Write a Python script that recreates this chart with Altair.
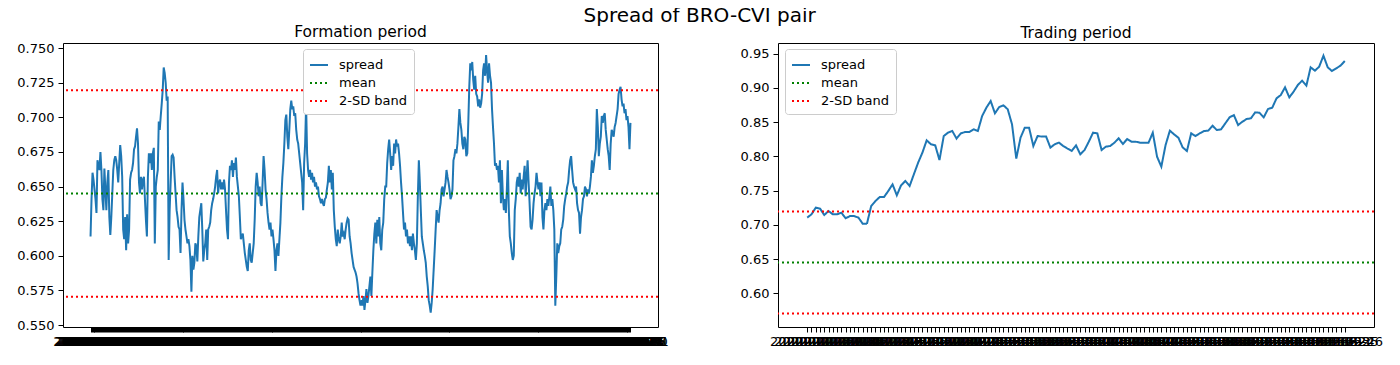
import altair as alt
import pandas as pd

# ---------------- data ----------------
formation_spread = [
    0.614, 0.641, 0.660, 0.655, 0.648, 0.641, 0.631, 0.669, 0.665, 0.662,
    0.675, 0.662, 0.641, 0.633, 0.663, 0.648, 0.633, 0.653, 0.662, 0.628,
    0.615, 0.628, 0.645, 0.662, 0.669, 0.672, 0.669, 0.662, 0.653, 0.667,
    0.680, 0.672, 0.657, 0.619, 0.612, 0.628, 0.604, 0.630, 0.609, 0.619,
    0.655, 0.660, 0.662, 0.667, 0.677, 0.679, 0.686, 0.692, 0.681, 0.653,
    0.645, 0.657, 0.648, 0.655, 0.657, 0.641, 0.626, 0.614, 0.657, 0.674,
    0.667, 0.674, 0.662, 0.674, 0.678, 0.609, 0.650, 0.657, 0.662, 0.697,
    0.691, 0.701, 0.710, 0.720, 0.736, 0.732, 0.725, 0.712, 0.715, 0.597,
    0.633, 0.653, 0.672, 0.673, 0.671, 0.657, 0.645, 0.633, 0.628, 0.621,
    0.619, 0.602, 0.633, 0.653, 0.641, 0.626, 0.619, 0.614, 0.609, 0.612,
    0.607, 0.597, 0.574, 0.600, 0.590, 0.595, 0.609, 0.607, 0.596, 0.614,
    0.628, 0.633, 0.638, 0.619, 0.596, 0.604, 0.609, 0.619, 0.597, 0.619,
    0.621, 0.624, 0.633, 0.638, 0.641, 0.645, 0.650, 0.657, 0.662, 0.645,
    0.653, 0.655, 0.648, 0.653, 0.648,
    0.655, 0.648, 0.633, 0.619, 0.612, 0.653, 0.665, 0.662, 0.669, 0.657,
    0.667, 0.662, 0.671, 0.657, 0.650, 0.643, 0.628, 0.612, 0.614, 0.616,
    0.609, 0.602, 0.597, 0.592, 0.589, 0.604, 0.609, 0.597, 0.595, 0.602,
    0.609, 0.626, 0.650, 0.660, 0.653, 0.643, 0.650, 0.638, 0.636, 0.653,
    0.672, 0.662, 0.648, 0.641, 0.631, 0.624, 0.619, 0.624, 0.614, 0.619,
    0.612, 0.604, 0.589, 0.604, 0.609, 0.600, 0.612, 0.624, 0.643, 0.657,
    0.667, 0.681, 0.698, 0.702, 0.686, 0.677, 0.691, 0.706, 0.712, 0.706,
    0.708, 0.701, 0.703, 0.691, 0.684, 0.681, 0.674, 0.667, 0.660, 0.653,
    0.633, 0.667, 0.681, 0.709, 0.674, 0.662, 0.657, 0.662, 0.655, 0.660,
    0.653, 0.657, 0.650, 0.653, 0.648, 0.650, 0.643, 0.641, 0.638, 0.641,
    0.638, 0.636, 0.641, 0.642, 0.648, 0.653, 0.665, 0.653, 0.662, 0.648,
    0.660, 0.633, 0.621, 0.612, 0.607, 0.619, 0.612, 0.609, 0.614, 0.624,
    0.614, 0.616, 0.612, 0.619, 0.624, 0.627, 0.626, 0.614, 0.609, 0.602,
    0.597, 0.592, 0.590, 0.588, 0.585, 0.580, 0.573, 0.568, 0.564,
    0.568, 0.564, 0.571, 0.561, 0.568, 0.576, 0.566, 0.571, 0.578, 0.585,
    0.571, 0.588, 0.604, 0.616, 0.624, 0.609, 0.626, 0.614, 0.628, 0.609,
    0.604, 0.619, 0.624, 0.641, 0.650, 0.650, 0.667, 0.677, 0.684, 0.674,
    0.662, 0.672, 0.665, 0.681, 0.674, 0.684, 0.679, 0.681, 0.674, 0.665,
    0.653, 0.643, 0.631, 0.619, 0.624, 0.614, 0.619, 0.609, 0.614, 0.607,
    0.614, 0.604, 0.616, 0.609, 0.604, 0.597, 0.609, 0.643, 0.669, 0.653,
    0.633, 0.614, 0.609, 0.604, 0.600, 0.595, 0.585, 0.578, 0.568, 0.564,
    0.559, 0.566, 0.576, 0.590, 0.604, 0.619, 0.633, 0.628, 0.624, 0.633,
    0.638, 0.648, 0.650, 0.643, 0.648, 0.653, 0.662, 0.657, 0.653, 0.648,
    0.641, 0.643, 0.648, 0.669, 0.672, 0.677, 0.674, 0.681, 0.693, 0.706,
    0.696, 0.691, 0.681, 0.677, 0.686, 0.684, 0.672, 0.674, 0.696, 0.722,
    0.739, 0.734, 0.740, 0.727, 0.720, 0.730, 0.717, 0.715, 0.708, 0.713,
    0.707, 0.710, 0.717, 0.734, 0.739, 0.730, 0.745, 0.734, 0.725, 0.739,
    0.730, 0.725, 0.706, 0.693, 0.681, 0.665,
    0.667, 0.662, 0.665, 0.653, 0.669, 0.638, 0.662, 0.643, 0.633, 0.641,
    0.631, 0.648, 0.669, 0.633, 0.614, 0.609, 0.602, 0.597, 0.600, 0.633,
    0.641, 0.653, 0.657, 0.650, 0.660, 0.645, 0.655, 0.648, 0.657, 0.665,
    0.643, 0.657, 0.669, 0.653, 0.638, 0.621, 0.619, 0.626, 0.638, 0.645,
    0.650, 0.660, 0.653, 0.648, 0.653, 0.643, 0.653, 0.628, 0.619, 0.633,
    0.638, 0.633, 0.641, 0.636, 0.643, 0.650, 0.636, 0.641, 0.633, 0.619,
    0.564, 0.585, 0.609, 0.602, 0.607, 0.609, 0.619, 0.621, 0.626, 0.636,
    0.641, 0.645, 0.650, 0.653, 0.662, 0.669, 0.672, 0.662, 0.653, 0.650,
    0.648, 0.650, 0.638, 0.633, 0.631, 0.616, 0.628, 0.633, 0.641, 0.643,
    0.650, 0.648, 0.643, 0.648, 0.645, 0.650, 0.657, 0.669, 0.660, 0.665,
    0.672, 0.677, 0.706, 0.693, 0.672, 0.681, 0.686, 0.701, 0.696, 0.701,
    0.703, 0.691, 0.684, 0.677, 0.672, 0.662, 0.681, 0.691, 0.689, 0.686,
    0.693, 0.696, 0.701, 0.706, 0.717, 0.720, 0.722, 0.713, 0.708, 0.710,
    0.703, 0.706, 0.698, 0.701, 0.693, 0.677, 0.696,
]

trading_spread = [
    0.7105, 0.7153, 0.7251, 0.7237, 0.7143, 0.7202, 0.7153, 0.7153, 0.7178, 0.7095,
    0.7128, 0.7128, 0.7105, 0.7017, 0.7017, 0.7275, 0.7348, 0.7406, 0.7406, 0.7494,
    0.7591, 0.7431, 0.7577, 0.7640, 0.7567, 0.7738, 0.7908, 0.8054, 0.8234, 0.8176,
    0.8161, 0.7946, 0.8297, 0.8346, 0.8370, 0.8259, 0.8336, 0.8355, 0.8355, 0.8395,
    0.8370, 0.8589, 0.8711, 0.8808, 0.8628, 0.8720, 0.8745, 0.8687, 0.8468, 0.7967,
    0.8273, 0.8419, 0.8419, 0.8151, 0.8297, 0.8288, 0.8288, 0.8127, 0.8176, 0.8200,
    0.8151, 0.8113, 0.8078, 0.8161, 0.8030, 0.8092, 0.8214, 0.8345, 0.8336, 0.8092,
    0.8141, 0.8151, 0.8199, 0.8263, 0.8180, 0.8253, 0.8214, 0.8214, 0.8199, 0.8199,
    0.8199, 0.8345, 0.7995, 0.7849, 0.8165, 0.8375, 0.8321, 0.8272, 0.8131, 0.8078,
    0.8336, 0.8297, 0.8336, 0.8370, 0.8375, 0.8448, 0.8384, 0.8394, 0.8482, 0.8569,
    0.8603, 0.8457, 0.8506, 0.8545, 0.8555, 0.8642, 0.8637, 0.8569, 0.8691, 0.8710,
    0.8847, 0.8895, 0.9007, 0.8861, 0.8944, 0.9042, 0.9105, 0.9032, 0.9300, 0.9251,
    0.9309, 0.9470, 0.9300, 0.9246, 0.9285, 0.9324, 0.9392,
]

mean_level = 0.6450
upper_band = 0.7195
lower_band = 0.5705

series_names = ["spread", "mean", "2-SD band"]
series_colors = ["#1f77b4", "#008000", "#ff0000"]
series_dashes = [[1, 0], [2, 3], [2, 3]]

formation_yticks = [0.550, 0.575, 0.600, 0.625, 0.650, 0.675, 0.700, 0.725, 0.750]
trading_yticks = [0.60, 0.65, 0.70, 0.75, 0.80, 0.85, 0.90, 0.95]

formation_dates = [d.strftime("%Y-%m-%d")
                   for d in pd.bdate_range(end="2019-12-31", periods=len(formation_spread))]
trading_dates = [d.strftime("%Y-%m-%d")
                 for d in pd.bdate_range(start="2020-01-02", periods=len(trading_spread))]

FONT = "DejaVu Sans"
PANEL_H = 284


def panel(dates, values, title, ydomain, yticks, yformat, legend_x, width):
    spread_df = pd.DataFrame({"date": dates, "value": values, "series": "spread"})
    level_df = pd.DataFrame({
        "value": [mean_level, upper_band, lower_band],
        "series": ["mean", "2-SD band", "2-SD band"],
    })
    legend = alt.Legend(
        orient="none", legendX=legend_x, legendY=6,
        symbolType="stroke", symbolSize=324, symbolStrokeWidth=2,
        labelFontSize=13, labelColor="black", labelFont=FONT, labelOffset=10,
        padding=6, rowPadding=1, strokeColor="#cccccc", fillColor="white",
        cornerRadius=3,
    )
    color = alt.Color("series:N", title=None,
                      scale=alt.Scale(domain=series_names, range=series_colors),
                      legend=legend)
    dash = alt.StrokeDash("series:N", title=None,
                          scale=alt.Scale(domain=series_names, range=series_dashes),
                          legend=legend)
    y = alt.Y("value:Q",
              scale=alt.Scale(domain=ydomain, nice=False, zero=False),
              axis=alt.Axis(values=yticks, format=yformat, title=None,
                            labelFontSize=13, tickSize=5, labelPadding=4,
                            domain=False, grid=False))
    # matplotlib-like 5% margins on each side of the categorical x range
    margin = width * 0.05 / 1.1
    x = alt.X("date:O", sort=None,
              scale=alt.Scale(type="point", range=[margin, width - margin]),
              axis=alt.Axis(title=None, labelAngle=0, labelOverlap=False,
                            labelBound=False, labelFlush=False, labelFontSize=13,
                            labelPadding=3, tickSize=5, domain=False, grid=False))
    line = alt.Chart(spread_df).mark_line(strokeWidth=2).encode(
        x=x, y=y, color=color, strokeDash=dash)
    rules = alt.Chart(level_df).mark_rule(strokeWidth=2).encode(
        y=y, color=color, strokeDash=dash)
    return alt.layer(line, rules).properties(
        width=width, height=PANEL_H,
        title=alt.TitleParams(title, fontSize=15.5, fontWeight="normal",
                              font=FONT, color="black", offset=2),
    )


left = panel(formation_dates, formation_spread, "Formation period",
             [0.5486, 0.7537], formation_yticks, ".3f", 240, 595)
right = panel(trading_dates, trading_spread, "Trading period",
              [0.5508, 0.9655], trading_yticks, ".2f", 7, 596)

chart = alt.hconcat(left, right, spacing=120, bounds="flush").resolve_scale(
    x="independent", y="independent", color="independent", strokeDash="independent"
).resolve_legend(
    color="independent", strokeDash="independent"
).properties(
    title=alt.TitleParams("Spread of BRO-CVI pair", fontSize=20, fontWeight="normal",
                          font=FONT, color="black", anchor="middle", offset=-2),
    padding={"left": 8, "top": -2, "right": 5, "bottom": 0},
).configure(font=FONT).configure_view(
    stroke="black", strokeWidth=1
).configure_axis(
    labelColor="black", tickColor="black", labelFont=FONT
)

chart.save("out.html", embed_options={"renderer": "svg", "actions": False})
